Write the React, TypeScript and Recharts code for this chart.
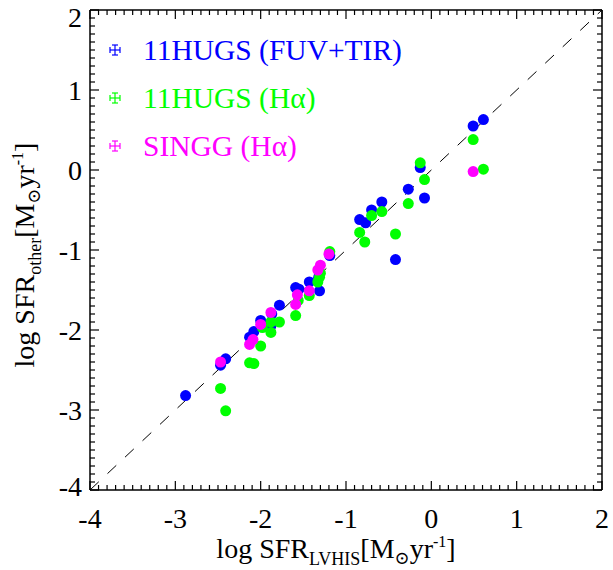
import React from 'react';
import { ScatterChart, Scatter, XAxis, YAxis, ReferenceLine } from 'recharts';

// log SFR_LVHIS vs log SFR_other
const hugsFuvTir: [number, number][] = [
  [-2.88, -2.82], [-2.47, -2.44], [-2.41, -2.36], [-2.13, -2.09], [-2.08, -2.02],
  [-2.0, -1.88], [-1.88, -1.95], [-1.87, -1.8], [-1.78, -1.69], [-1.59, -1.47],
  [-1.55, -1.49], [-1.43, -1.4], [-1.32, -1.34], [-1.31, -1.51], [-1.19, -1.07],
  [-0.84, -0.62], [-0.77, -0.66], [-0.7, -0.5], [-0.58, -0.4], [-0.42, -1.12],
  [-0.27, -0.24], [-0.13, 0.03], [-0.08, -0.35], [0.49, 0.55], [0.61, 0.63],
];

const hugsHalpha: [number, number][] = [
  [-2.41, -3.01], [-2.47, -2.73], [-2.13, -2.41], [-2.08, -2.42], [-2.0, -2.2],
  [-1.98, -1.97], [-1.88, -2.03], [-1.88, -1.9], [-1.78, -1.9], [-1.59, -1.82],
  [-1.56, -1.63], [-1.43, -1.57], [-1.33, -1.4], [-1.31, -1.34], [-1.3, -1.29],
  [-1.19, -1.02], [-0.84, -0.78], [-0.78, -0.9], [-0.7, -0.57], [-0.58, -0.52],
  [-0.42, -0.8], [-0.27, -0.42], [-0.13, 0.09], [-0.08, -0.12], [0.49, 0.38],
  [0.61, 0.01],
];

const singgHalpha: [number, number][] = [
  [-2.47, -2.4], [-2.13, -2.18], [-2.09, -2.12], [-2.0, -1.93], [-1.88, -1.78],
  [-1.59, -1.68], [-1.57, -1.56], [-1.43, -1.51], [-1.33, -1.25], [-1.3, -1.19],
  [-1.2, -1.05], [0.49, -0.02],
];

const majorTicks = [-4, -3, -2, -1, 0, 1, 2];
const minorPerMajor = 10;

const series = [
  { name: '11HUGS (FUV+TIR)', color: '#0000ff', data: hugsFuvTir },
  { name: '11HUGS (H\u03b1)', color: '#00ff00', data: hugsHalpha },
  { name: 'SINGG (H\u03b1)', color: '#ff00ff', data: singgHalpha },
];

const allTicks: number[] = [];
for (let i = 0; i < majorTicks.length - 1; i++) {
  for (let k = 0; k < minorPerMajor; k++) {
    allTicks.push(Math.round((majorTicks[i] + k / minorPerMajor) * 100) / 100);
  }
}
allTicks.push(majorTicks[majorTicks.length - 1]);

const isMajor = (v: number) => majorTicks.includes(v);
const FONT = '"Liberation Serif", "DejaVu Serif", serif';
const MAJOR_LEN = 9;
const MINOR_LEN = 5;
const TICK_FONT = 28;

const BottomTick = (props: any) => {
  const { x, y, payload } = props;
  const major = isMajor(payload.value);
  return (
    <g>
      <line x1={x} x2={x} y1={y} y2={y - (major ? MAJOR_LEN : MINOR_LEN)} stroke="#000" strokeWidth={1.2} />
      {major && (
        <text x={x} y={y + 38} textAnchor="middle" fontSize={TICK_FONT} fontFamily={FONT} fill="#000">
          {payload.value}
        </text>
      )}
    </g>
  );
};

const TopTick = (props: any) => {
  const { x, y, payload } = props;
  const major = isMajor(payload.value);
  return <line x1={x} x2={x} y1={y} y2={y + (major ? MAJOR_LEN : MINOR_LEN)} stroke="#000" strokeWidth={1.2} />;
};

const LeftTick = (props: any) => {
  const { x, y, payload } = props;
  const v = payload.value;
  const major = isMajor(v);
  // end labels are nudged inside, as in the original
  const shift = v === 2 ? 7 : v === -4 ? -4 : 0;
  return (
    <g>
      <line x1={x} x2={x + (major ? MAJOR_LEN : MINOR_LEN)} y1={y} y2={y} stroke="#000" strokeWidth={1.2} />
      {major && (
        <text x={x - 8} y={y + 10 + shift} textAnchor="end" fontSize={TICK_FONT} fontFamily={FONT} fill="#000">
          {v}
        </text>
      )}
    </g>
  );
};

const RightTick = (props: any) => {
  const { x, y, payload } = props;
  const major = isMajor(payload.value);
  return <line x1={x} x2={x - (major ? MAJOR_LEN : MINOR_LEN)} y1={y} y2={y} stroke="#000" strokeWidth={1.2} />;
};

const dot = (color: string) => (props: any) => (
  <circle cx={props.cx} cy={props.cy} r={5.5} fill={color} />
);

const ErrSymbol = ({ color }: { color: string }) => (
  <svg width={12} height={12} style={{ display: 'block' }}>
    <g stroke={color} strokeWidth={1.2}>
      <line x1={1} x2={11} y1={6} y2={6} />
      <line x1={6} x2={6} y1={1} y2={11} />
      <line x1={1} x2={1} y1={3} y2={9} />
      <line x1={11} x2={11} y1={3} y2={9} />
      <line x1={3} x2={9} y1={1} y2={1} />
      <line x1={3} x2={9} y1={11} y2={11} />
    </g>
  </svg>
);

const axisLine = { stroke: '#000', strokeWidth: 1.5 };

const AxisTitle = ({ sub }: { sub: string }) => (
  <>
    log SFR
    <tspan fontSize={18} dy={7}>{sub}</tspan>
    <tspan dy={-7}>[M</tspan>
    <tspan fontSize={18} dy={6}>{'\u2299'}</tspan>
    <tspan dy={-6}>yr</tspan>
    <tspan fontSize={16} dy={-11}>-1</tspan>
    <tspan dy={11}>]</tspan>
  </>
);

export default function App() {
  return (
    <div style={{ position: 'absolute', left: 0, top: 0, width: 613, height: 570, background: '#fff' }}>
      <ScatterChart width={613} height={570} margin={{ top: 9, right: 10, bottom: 79, left: 89 }}>
        <XAxis
          xAxisId="b"
          type="number"
          dataKey="x"
          domain={[-4, 2]}
          ticks={allTicks}
          interval={0}
          height={1}
          tickSize={0}
          tickMargin={0}
          tick={BottomTick}
          axisLine={axisLine}
          allowDataOverflow
        />
        <XAxis
          xAxisId="t"
          orientation="top"
          type="number"
          dataKey="x"
          domain={[-4, 2]}
          ticks={allTicks}
          interval={0}
          height={1}
          tickSize={0}
          tickMargin={0}
          tick={TopTick}
          axisLine={axisLine}
          allowDataOverflow
        />
        <YAxis
          yAxisId="l"
          type="number"
          dataKey="y"
          domain={[-4, 2]}
          ticks={allTicks}
          interval={0}
          width={1}
          tickSize={0}
          tickMargin={0}
          tick={LeftTick}
          axisLine={axisLine}
          allowDataOverflow
        />
        <YAxis
          yAxisId="r"
          orientation="right"
          type="number"
          dataKey="y"
          domain={[-4, 2]}
          ticks={allTicks}
          interval={0}
          width={1}
          tickSize={0}
          tickMargin={0}
          tick={RightTick}
          axisLine={axisLine}
          allowDataOverflow
        />
        <ReferenceLine
          xAxisId="b"
          yAxisId="l"
          segment={[{ x: -4, y: -4 }, { x: 2, y: 2 }]}
          stroke="#000"
          strokeWidth={1}
          strokeDasharray="12 12"
          ifOverflow="visible"
        />
        {series.map((s) => (
          <Scatter
            key={s.name}
            name={s.name}
            xAxisId="b"
            yAxisId="l"
            data={s.data.map(([x, y]) => ({ x, y }))}
            fill={s.color}
            shape={dot(s.color)}
            isAnimationActive={false}
          />
        ))}
        <text x={336} y={558} textAnchor="middle" fontSize={28} fontFamily={FONT} fill="#000">
          <AxisTitle sub="LVHIS" />
        </text>
        <text
          x={0}
          y={0}
          transform="translate(34,255) rotate(-90)"
          textAnchor="middle"
          fontSize={28}
          fontFamily={FONT}
          fill="#000"
        >
          <AxisTitle sub="other" />
        </text>
      </ScatterChart>
      <div style={{ position: 'absolute', left: 109, top: 26, fontFamily: FONT }}>
        {series.map((s) => (
          <div key={s.name} style={{ display: 'flex', alignItems: 'center', height: 48 }}>
            <ErrSymbol color={s.color} />
            <span style={{ color: s.color, fontSize: 29.5, marginLeft: 22, lineHeight: '40px' }}>{s.name}</span>
          </div>
        ))}
      </div>
    </div>
  );
}
